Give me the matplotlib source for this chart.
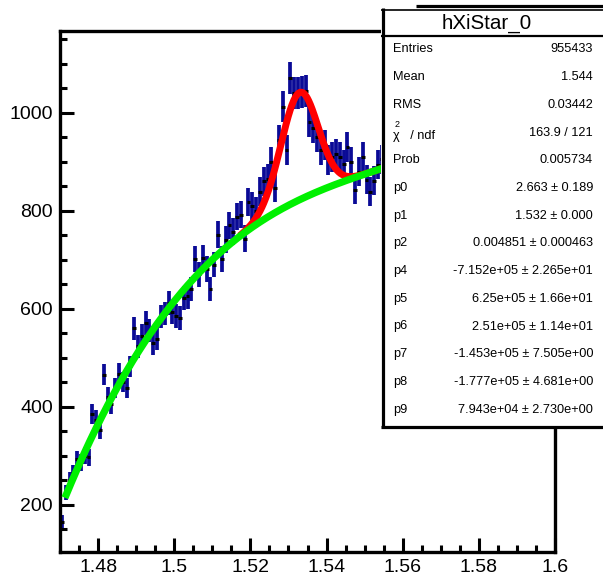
import numpy as np
import matplotlib
matplotlib.use("Agg")
import matplotlib.pyplot as plt
from matplotlib.ticker import MultipleLocator, FixedLocator, FixedFormatter
from matplotlib.patches import Rectangle

plt.rcParams['font.family'] = ['Liberation Sans', 'DejaVu Sans']

# ---------------- data ----------------
bin_width = 0.001
bin_start = 1.4705
counts = [165, 225, 250, 265, 292, 286, 300, 296, 385, 373,
          353, 465, 420, 405, 438, 467, 450, 438, 482, 560,
          523, 545, 571, 555, 529, 539, 584, 590, 612, 593,
          585, 581, 622, 625, 640, 701, 670, 703, 681, 640,
          690, 751, 701, 741, 770, 757, 788, 792, 743, 817,
          810, 800, 839, 860, 865, 900, 846, 945, 1012, 924,
          1071, 1040, 1040, 1043, 1045, 981, 969, 950, 924, 935,
          904, 910, 916, 910, 895, 931, 900, 843, 880, 910,
          863, 839, 861, 894, 905]

# background fit curve, read at a few positions
bg_x = [1.4715, 1.48, 1.49, 1.50, 1.51, 1.52, 1.53, 1.54, 1.555]
bg_y = [213, 367, 520, 600, 694, 770, 812, 848, 886]
bg_range = (1.4713, 1.60)

# gaussian signal (from stats box)
p0_area = 2.663
peak_mean = 1.5329
peak_sigma = 0.004851
sig_range = (1.5172, 1.58)

xticks = [1.48, 1.50, 1.52, 1.54, 1.56, 1.58, 1.60]
xtick_labels = ["1.48", "1.5", "1.52", "1.54", "1.56", "1.58", "1.6"]
yticks = [200, 400, 600, 800, 1000]
ytick_labels = ["200", "400", "600", "800", "1000"]

stats_title = "hXiStar_0"
stats_names = ["Entries", "Mean", "RMS", "CHI", "Prob", "p0", "p1", "p2",
               "p4", "p5", "p6", "p7", "p8", "p9"]
stats_values = ["955433", "1.544", "0.03442", "163.9 / 121", "0.005734",
                "2.663 ± 0.189", "1.532 ± 0.000", "0.004851 ± 0.000463",
                "-7.152e+05 ± 2.265e+01", "6.25e+05 ± 1.66e+01",
                "2.51e+05 ± 1.14e+01", "-1.453e+05 ± 7.505e+00",
                "-1.777e+05 ± 4.681e+00", "7.943e+04 ± 2.730e+00"]

# ---------------- figure ----------------
W, H = 603, 579
fig = plt.figure(figsize=(W / 100, H / 100), dpi=100)
fig.patch.set_facecolor('white')

L, R, T, B = 60, 555, 31, 552
ax = fig.add_axes([L / W, 1 - B / H, (R - L) / W, (B - T) / H])
ax.set_xlim(1.47, 1.60)
ax.set_ylim(103, 1167)

x = bin_start + bin_width * np.arange(len(counts))
y = np.array(counts, dtype=float)
err = np.sqrt(y)

ax.vlines(x, y - err, y + err, color='#0a0a96', lw=2.7, zorder=2)
ax.hlines(y, x - bin_width / 2, x + bin_width / 2, color='black', lw=2.2, zorder=3)

coef = np.polyfit(bg_x, bg_y, 3)
xb = np.linspace(bg_range[0], bg_range[1], 400)
yb = np.polyval(coef, xb)

amp = p0_area / (peak_sigma * np.sqrt(2 * np.pi))
xs = np.linspace(sig_range[0], sig_range[1], 400)
ys = np.polyval(coef, xs) + amp * np.exp(-0.5 * ((xs - peak_mean) / peak_sigma) ** 2)

ax.plot(xs, ys, color='#ff0000', lw=5.0, solid_capstyle='butt', zorder=4)
ax.plot(xb, yb, color='#00f000', lw=5.2, solid_capstyle='butt', zorder=5)

# axes style
for s in ['left', 'bottom', 'right', 'top']:
    ax.spines[s].set_linewidth(2.4)
    ax.spines[s].set_color('black')

ax.xaxis.set_major_locator(FixedLocator(xticks))
ax.xaxis.set_major_formatter(FixedFormatter(xtick_labels))
ax.xaxis.set_minor_locator(MultipleLocator(0.005))
ax.yaxis.set_major_locator(FixedLocator(yticks))
ax.yaxis.set_major_formatter(FixedFormatter(ytick_labels))
ax.yaxis.set_minor_locator(MultipleLocator(50))

ax.tick_params(which='both', direction='in', top=False, right=False, width=2.2, color='black')
ax.tick_params(which='major', length=10)
ax.tick_params(which='minor', length=5)
ax.tick_params(axis='x', which='major', labelsize=14, pad=5)
ax.tick_params(axis='y', which='major', labelsize=14, pad=5)

# ---------------- stats box overlay (pixel coords) ----------------
ov = fig.add_axes([0, 0, 1, 1], zorder=10)
ov.set_xlim(0, W)
ov.set_ylim(H, 0)
ov.axis('off')
ov.patch.set_alpha(0)

ov.add_patch(Rectangle((381, 8), 240, 419, facecolor='white', edgecolor='none'))
ov.plot([382.5, 382.5], [8, 428], color='black', lw=2.3, solid_capstyle='butt')
ov.plot([381, 610], [426.5, 426.5], color='black', lw=2.3, solid_capstyle='butt')
ov.plot([381, 610], [9.5, 9.5], color='black', lw=1.2, solid_capstyle='butt')
ov.plot([381, 610], [36, 36], color='black', lw=1.6, solid_capstyle='butt')
ov.plot([416, 610], [6, 6], color='black', lw=2.3, solid_capstyle='butt')

ov.text(487, 23, stats_title, fontsize=14.8, ha='center', va='center')

row_y0, row_dy = 49.5, 27.7
for k, (nm, val) in enumerate(zip(stats_names, stats_values)):
    yy = row_y0 + k * row_dy
    if nm == "CHI":
        ov.text(393, yy + 3, "χ   / ndf", fontsize=9.2, ha='left', va='center')
        ov.text(395, yy - 8, "2", fontsize=6.5, ha='left', va='center')
    else:
        ov.text(393, yy, nm, fontsize=9.2, ha='left', va='center')
    ov.text(593, yy, val, fontsize=9.2, ha='right', va='center')

fig.savefig("out.png", dpi=100, facecolor='white')
